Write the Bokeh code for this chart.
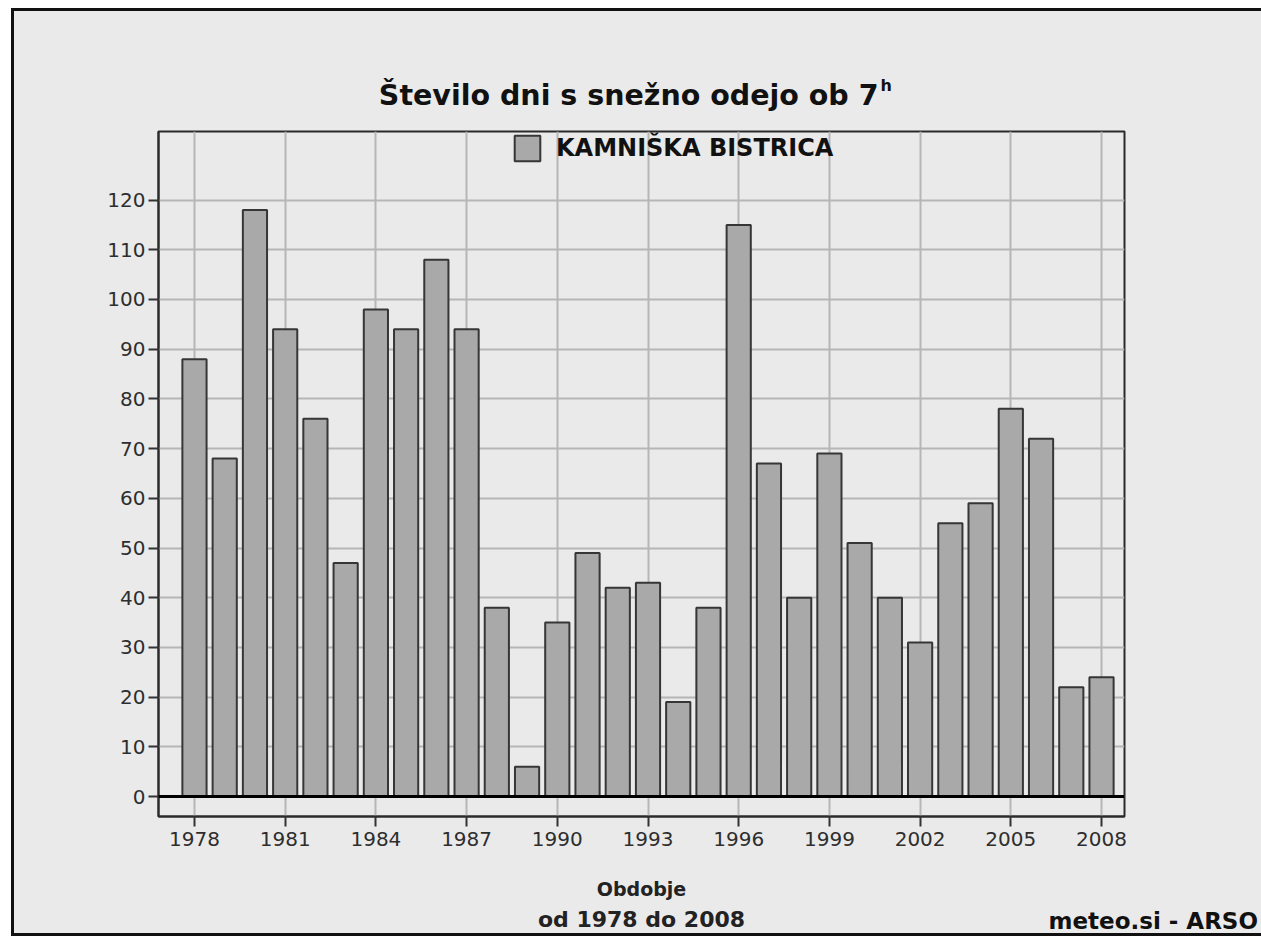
from bokeh.plotting import figure
from bokeh.layouts import column
from bokeh.models import Range1d, Span, Legend, LegendItem, FixedTicker
from bokeh.core.properties import value
from bokeh.embed import file_html
from bokeh.resources import INLINE

# ---- data ----
years = list(range(1978, 2009))
days = [88, 68, 118, 94, 76, 47, 98, 94, 108, 94,
        38, 6, 35, 49, 42, 43, 19, 38, 115, 67,
        40, 69, 51, 40, 31, 55, 59, 78, 72, 22,
        24]
x_ticks = list(range(1978, 2009, 3))
y_ticks = list(range(0, 121, 10))
title_text = "Število dni s snežno odejo ob 7"
title_sup = "h"
series_name = "KAMNIŠKA BISTRICA"
x_title = "Obdobje"
period_text = "od 1978 do 2008"
source_text = "meteo.si - ARSO"

# ---- layout constants ----
BG = "#eaeaea"
W = 1247
HEAD_H, MAIN_H, FOOT_H = 110, 739, 73
X_START, X_END = 1976.81, 2008.76
Y_START, Y_END = -4.02, 133.8
BOLD_FONT = value("DejaVu Sans")


def text_panel(h):
    f = figure(width=W, height=h, output_backend="svg", toolbar_location=None,
               x_range=Range1d(0, W), y_range=Range1d(0, h),
               x_axis_location=None, y_axis_location=None,
               min_border=0, background_fill_color=BG, border_fill_color=BG)
    f.outline_line_color = None
    f.grid.visible = False
    f.frame_align = False
    return f


# ---- header (title) ----
head = text_panel(HEAD_H)
head.text(x=[864], y=[26], text=[title_text], text_font=BOLD_FONT,
          text_font_size=value("28.5px"), text_font_style="bold",
          text_color="#111111", text_align="right", text_baseline="alphabetic")
head.text(x=[866], y=[36], text=[title_sup], text_font=BOLD_FONT,
          text_font_size=value("16px"), text_font_style="bold",
          text_color="#111111", text_align="left", text_baseline="alphabetic")

# ---- main chart ----
p = figure(width=W, height=MAIN_H, output_backend="svg", toolbar_location=None,
           x_range=Range1d(X_START, X_END), y_range=Range1d(Y_START, Y_END),
           min_border_left=144, min_border_right=137,
           min_border_top=10, min_border_bottom=44,
           background_fill_color=BG, border_fill_color=BG)
p.frame_align = False
p.outline_line_color = "#2a2a2a"
p.outline_line_width = 2

r = p.vbar(x=years, top=days, bottom=0, width=0.8,
           fill_color="#a9a9a9", line_color="#363636", line_width=2)

p.xaxis.ticker = FixedTicker(ticks=x_ticks)
p.yaxis.ticker = FixedTicker(ticks=y_ticks)
for ax in (p.xaxis, p.yaxis):
    ax.axis_line_color = "#2a2a2a"
    ax.axis_line_width = 2
    ax.major_tick_line_color = "#333333"
    ax.major_tick_line_width = 2
    ax.major_tick_out = 10
    ax.major_tick_in = 0
    ax.minor_tick_line_color = None
    ax.major_label_text_font = "DejaVu Sans"
    ax.major_label_text_font_size = "20px"
    ax.major_label_text_color = "#2e2e2e"
p.xaxis.major_label_standoff = 5
p.yaxis.major_label_standoff = 3

p.xgrid.ticker = FixedTicker(ticks=x_ticks)
p.ygrid.ticker = FixedTicker(ticks=y_ticks)
for g in (p.xgrid, p.ygrid):
    g.grid_line_color = "#b6b6b6"
    g.grid_line_width = 2

p.add_layout(Span(location=0, dimension="width", line_color="#000000", line_width=3))

legend = Legend(items=[LegendItem(label=series_name, renderers=[r])],
                location=(353, 652),
                padding=0, margin=0, border_line_alpha=0, background_fill_alpha=0,
                glyph_width=32, glyph_height=32, label_height=32, label_standoff=13,
                label_text_font="DejaVu Sans", label_text_font_style="bold",
                label_text_font_size="24px", label_text_color="#111111")
p.add_layout(legend)

# ---- footer (axis title, period, source) ----
foot = text_panel(FOOT_H)
foot.text(x=[627], y=[45], text=[x_title], text_font=BOLD_FONT,
          text_font_size=value("19px"), text_font_style="bold",
          text_color="#222222", text_align="center", text_baseline="alphabetic")
foot.text(x=[627], y=[14], text=[period_text], text_font=BOLD_FONT,
          text_font_size=value("22px"), text_font_style="bold",
          text_color="#222222", text_align="center", text_baseline="alphabetic")
foot.text(x=[1034], y=[13], text=[source_text], text_font=BOLD_FONT,
          text_font_size=value("23px"), text_font_style="bold",
          text_color="#111111", text_align="left", text_baseline="alphabetic")

layout = column(head, p, foot, spacing=0)
layout.styles = {"margin-left": "11px", "margin-top": "8px",
                 "background-color": BG,
                 "border-top": "3px solid #111", "border-left": "3px solid #111",
                 "border-bottom": "3px solid #111"}

open("out.html", "w").write(file_html(layout, INLINE))
